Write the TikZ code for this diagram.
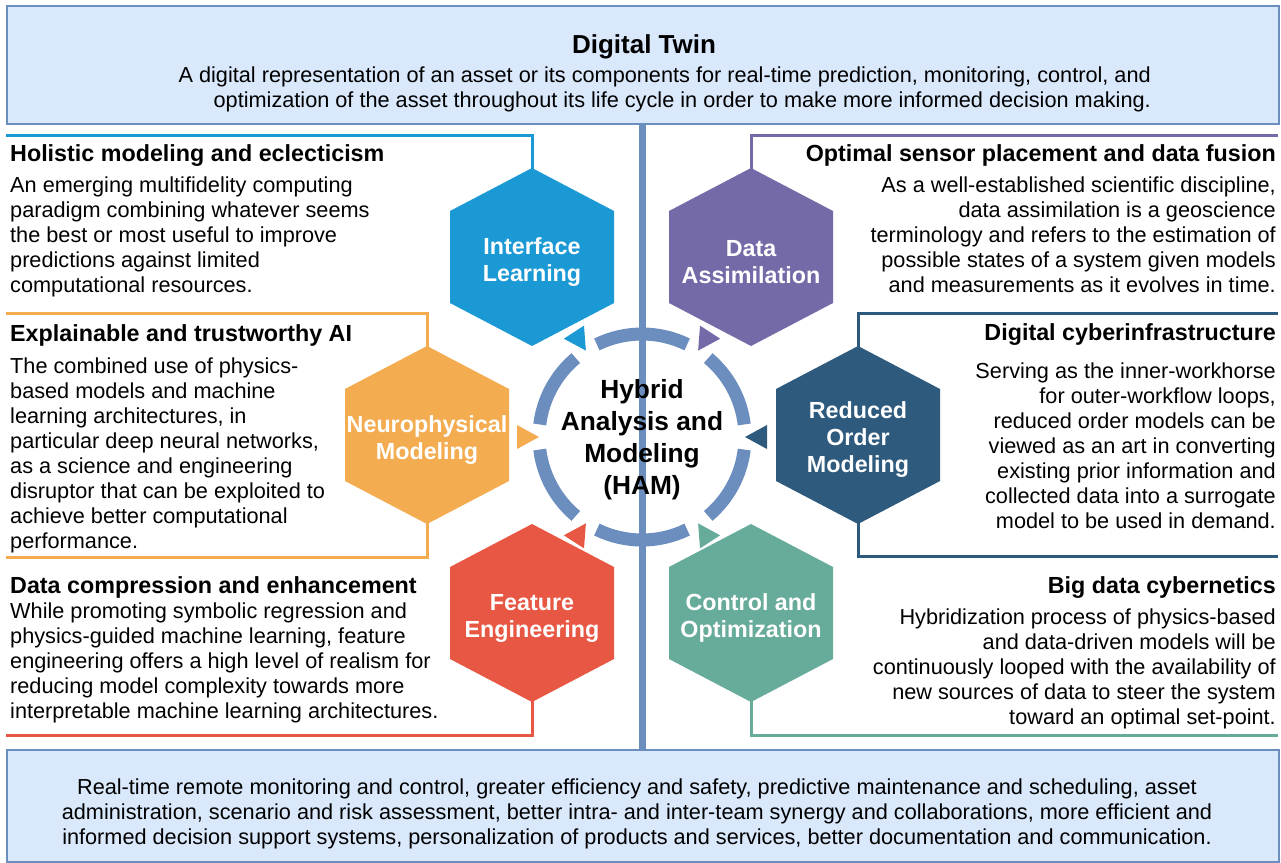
\documentclass[tikz,border=0pt]{standalone}
\usepackage{fontspec}
\setmainfont{Liberation Sans}
\usetikzlibrary{calc}
\definecolor{boxfill}{RGB}{218,232,252}
\definecolor{boxdraw}{RGB}{108,142,191}
\definecolor{ringc}{RGB}{108,142,191}
\definecolor{cIL}{RGB}{27,153,213}
\definecolor{cDA}{RGB}{116,106,168}
\definecolor{cNM}{RGB}{244,172,80}
\definecolor{cRO}{RGB}{46,90,126}
\definecolor{cFE}{RGB}{232,87,67}
\definecolor{cCO}{RGB}{103,171,154}
\begin{document}
\begin{tikzpicture}[x=1pt,y=-1pt,
  hexa/.pic={\fill (0,-89) -- (82,-46) -- (82,46) -- (0,89) -- (-82,46) -- (-82,-46) -- cycle;},
  hexlabel/.style={text=white, font=\fontsize{23.3}{27}\selectfont\bfseries, align=center, inner sep=0},
  head/.style={font=\fontsize{23.3}{28}\selectfont\bfseries, inner sep=0},
  body/.style={font=\fontsize{21.7}{25}\selectfont, inner sep=0},
  panelline/.style={line width=3, line join=miter},
  ring/.style={line width=13, draw=ringc},
  box/.style={draw=boxdraw, fill=boxfill, line width=1.5, inner sep=0},
]
\useasboundingbox (0,0) rectangle (1281,862);
\fill[white] (0,0) rectangle (1281,862);

% boxes
\node[box, minimum width=1272, minimum height=118, anchor=north west] (topbox) at (6,5) {};
\node[box, minimum width=1272, minimum height=112, anchor=north west] (botbox) at (6,749) {};

% central spine
\coordinate (C) at (642,437);
\draw[line width=7, ringc] (topbox.south) -- (botbox.north);

% hexagon centres
\coordinate (IL) at (532,257);
\coordinate (DA) at (751,257);
\coordinate (NM) at (427,435);
\coordinate (RO) at (858,435);
\coordinate (FE) at (532,613);
\coordinate (CO) at (751,613);

% connector lines (drawn before hexagons)
\coordinate (ILend) at (6,135);
\coordinate (DAend) at (1278,135);
\coordinate (NMend1) at (6,313);
\coordinate (NMend2) at (6,557);
\coordinate (ROend1) at (1278,313);
\coordinate (ROend2) at (1278,556);
\coordinate (FEend) at (6,735);
\coordinate (COend) at (1278,735);
\draw[panelline, cIL] ($(IL)+(0,-80)$) |- (ILend);
\draw[panelline, cDA] ($(DA)+(0,-80)$) |- (DAend);
\draw[panelline, cNM] ($(NM)+(0,-80)$) |- (NMend1);
\draw[panelline, cNM] ($(NM)+(0,80)$) |- (NMend2);
\draw[panelline, cRO] ($(RO)+(0,-80)$) |- (ROend1);
\draw[panelline, cRO] ($(RO)+(0,80)$) |- (ROend2);
\draw[panelline, cFE] ($(FE)+(0,80)$) |- (FEend);
\draw[panelline, cCO] ($(CO)+(0,80)$) |- (COend);

% hexagons
\path (IL) pic[fill=cIL] {hexa};
\path (DA) pic[fill=cDA] {hexa};
\path (NM) pic[fill=cNM] {hexa};
\path (RO) pic[fill=cRO] {hexa};
\path (FE) pic[fill=cFE] {hexa};
\path (CO) pic[fill=cCO] {hexa};
\node[hexlabel] (ILt) at ($(IL)+(0,5)$) {Interface\\Learning};
\node[hexlabel] (DAt) at ($(DA)+(0,5)$) {Data\\Assimilation};
\node[hexlabel] (NMt) at ($(NM)+(0,5)$) {Neurophysical\\Modeling};
\node[hexlabel] (ROt) at ($(RO)+(0,5)$) {Reduced\\Order\\Modeling};
\node[hexlabel] (FEt) at ($(FE)+(0,5)$) {Feature\\Engineering};
\node[hexlabel] (COt) at ($(CO)+(0,5)$) {Control and\\Optimization};

% ring
\foreach \s/\e in {7/50, 64/116, 130/173, 187/230, 244/296, 310/353}
  \draw[ring] ($(C)+(\s:103)$) arc[start angle=\s, end angle=\e, radius=103];
% arrow triangles
\foreach \a/\c in {0/cRO, 57/cCO, 123/cFE, 180/cNM, 237/cIL, 303/cDA}
  \fill[\c] ($(C)+(\a:103)$) -- ($(C)+(\a:125)+(\a+90:12)$) -- ($(C)+(\a:125)+(\a-90:12)$) -- cycle;

\node[font=\fontsize{26.3}{32}\selectfont\bfseries, align=center, inner sep=0] (ham) at ($(C)+(0,3)$) {Hybrid\\Analysis and\\Modeling\\(HAM)};

% top box text
\node[font=\fontsize{26}{30}\selectfont\bfseries, anchor=base, inner sep=0] (dt) at (644,53) {Digital Twin};
\node[body, anchor=base east, align=right] (dtdesc) at (1151,107) {A digital representation of an asset or its components for real-time prediction, monitoring, control, and\\optimization of the asset throughout its life cycle in order to make more informed decision making.};

% bottom box text
\node[body, anchor=base, align=center] (benefits) at (637,844) {Real-time remote monitoring and control, greater efficiency and safety, predictive maintenance and scheduling, asset\\administration, scenario and risk assessment, better intra- and inter-team synergy and collaborations, more efficient and\\informed decision support systems, personalization of products and services, better documentation and communication.};

% left panels (multi-line nodes anchored at the baseline of their last line)
\node[head, anchor=base west] (h1) at (10,161) {Holistic modeling and eclecticism};
\node[body, anchor=base west, align=left] (b1) at (10,292) {An emerging multifidelity computing\\paradigm combining whatever seems\\the best or most useful to improve\\predictions against limited\\computational resources.};
\node[head, anchor=base west] (h2) at (10,341) {Explainable and trustworthy AI};
\node[body, anchor=base west, align=left] (b2) at (10,548) {The combined use of physics-\\based models and machine\\learning architectures, in\\particular deep neural networks,\\as a science and engineering\\disruptor that can be exploited to\\achieve better computational\\performance.};
\node[head, anchor=base west] (h3) at (10,593) {Data compression and enhancement};
\node[body, anchor=base west, align=left] (b3) at (10,718) {While promoting symbolic regression and\\physics-guided machine learning, feature\\engineering offers a high level of realism for\\reducing model complexity towards more\\interpretable machine learning architectures.};

% right panels
\node[head, anchor=base east] (h4) at (1276,161) {Optimal sensor placement and data fusion};
\node[body, anchor=base east, align=right] (b4) at (1276,292) {As a well-established scientific discipline,\\data assimilation is a geoscience\\terminology and refers to the estimation of\\possible states of a system given models\\and measurements as it evolves in time.};
\node[head, anchor=base east] (h5) at (1276,340) {Digital cyberinfrastructure};
\node[body, anchor=base east, align=right] (b5) at (1276,528) {Serving as the inner-workhorse\\for outer-workflow loops,\\reduced order models can be\\viewed as an art in converting\\existing prior information and\\collected data into a surrogate\\model to be used in demand.};
\node[head, anchor=base east] (h6) at (1276,593) {Big data cybernetics};
\node[body, anchor=base east, align=right] (b6) at (1276,724) {Hybridization process of physics-based\\and data-driven models will be\\continuously looped with the availability of\\new sources of data to steer the system\\toward an optimal set-point.};
\end{tikzpicture}
\end{document}
